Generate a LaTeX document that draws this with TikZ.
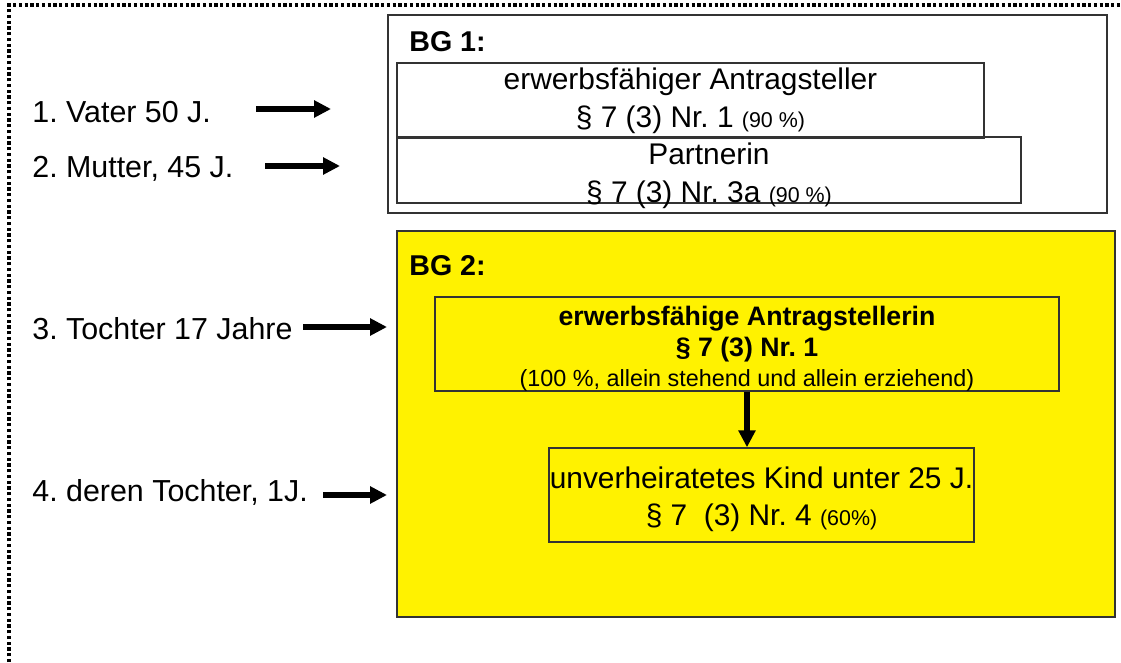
\documentclass[tikz,border=0pt]{standalone}
\usepackage{fontspec}
\setmainfont{Liberation Sans}
\usetikzlibrary{arrows.meta}
\frenchspacing

\definecolor{rahmen}{HTML}{333333}
\newcommand{\klein}{\fontsize{12.2}{14}\selectfont}
\newcommand{\labelfont}{\fontsize{17.3}{20}\selectfont}
\newcommand{\boxfont}{\fontsize{17}{21.6}\selectfont}

\tikzset{
  kasten/.style={draw=rahmen, line width=0.85pt, inner sep=0pt, align=center},
  person/.style={anchor=base west, inner sep=0pt, font=\labelfont},
  bgname/.style={anchor=base west, inner sep=0pt, font=\fontsize{16.3}{18}\selectfont\bfseries},
  pfeil/.style={line width=2.9pt, -{Triangle[length=0.34cm,width=0.33cm]}}
}

\begin{document}
\begin{tikzpicture}[x=0.02cm,y=-0.02cm]
\useasboundingbox (0,0) rectangle (1121,662);

% gepunkteter Rahmen
\draw[line width=2.2pt, dash pattern=on 0.065cm off 0.05cm] (9,662) -- (9,5) -- (1121,5);

% Personen
\node[person] (vater) at (32,123) {1. Vater 50 J.};
\node[person] (mutter) at (32,177) {2. Mutter, 45 J.};
\node[person] (tochter) at (32,339) {3. Tochter 17 Jahre};
\node[person] (enkelin) at (32,501) {4. deren Tochter, 1J.};

% BG 1
\draw[rahmen, line width=1.1pt] (388,15) rectangle (1107,213);
\node[bgname] (bg1) at (409,52) {BG 1:};
\node[kasten, minimum width=11.74cm, minimum height=1.5cm, font=\boxfont] (antragsteller) at (690.5,100.5)
  {erwerbsfähiger Antragsteller\\ § 7 (3) Nr. 1 {\klein (90 \%)}};
\node[kasten, minimum width=12.48cm, minimum height=1.32cm] (partnerin) at (709,170) {};
\node[inner sep=0pt, align=center, font=\boxfont] (partnerintext) at (709,176)
  {Partnerin\\ § 7 (3) Nr. 3a {\klein (90 \%)}};

% BG 2
\draw[rahmen, fill=yellow, line width=1.1pt] (397,231) rectangle (1115,617);
\node[bgname] (bg2) at (409,275) {BG 2:};
\node[kasten, minimum width=12.48cm, minimum height=1.88cm] (antragstellerin) at (747,344) {};
\node[inner sep=0pt, align=center, font=\fontsize{15.2}{17.4}\selectfont] (antragstellerintext) at (747,349)
  {\textbf{erwerbsfähige Antragstellerin}\\ \textbf{§ 7 (3) Nr. 1}\\ {\fontsize{13.3}{16}\selectfont (100 \%, allein stehend und allein erziehend)}};
\node[kasten, minimum width=8.5cm, minimum height=1.88cm] (kind) at (761.5,495) {};
\node[inner sep=0pt, align=center, font=\fontsize{17}{21}\selectfont] (kindtext) at (761.5,499)
  {unverheiratetes Kind unter 25 J.\\ § 7\ \ (3) Nr. 4 {\klein (60\%)}};

\draw[pfeil] (antragstellerin.south) -- (antragstellerin.south |- kind.north);

% Pfeile zu den Bedarfsgemeinschaften
\coordinate (p1a) at (256,109);
\coordinate (p1b) at (331,109);
\coordinate (p2a) at (265,166);
\coordinate (p2b) at (340,166);
\coordinate (p3a) at (303,327);
\coordinate (p3b) at (387,327);
\coordinate (p4a) at (323,495);
\coordinate (p4b) at (387,495);
\foreach \i in {1,...,4}
  \draw[pfeil] (p\i a) -- (p\i b);

\end{tikzpicture}
\end{document}
